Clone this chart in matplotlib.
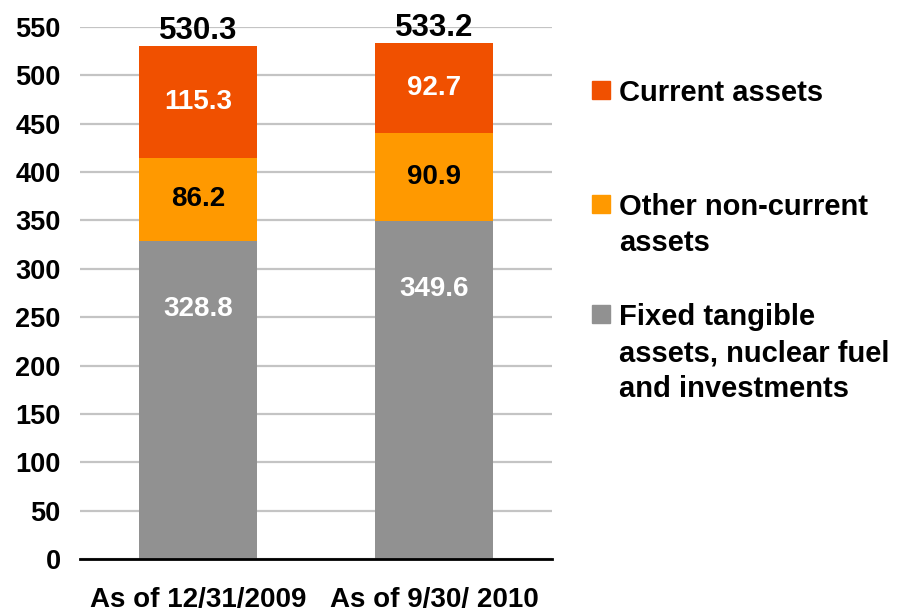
import matplotlib.pyplot as plt
from matplotlib.patches import Rectangle

categories = ['As of 12/31/2009', 'As of 9/30/ 2010']
fixed_assets = [328.8, 349.6]
other_noncurrent = [86.2, 90.9]
current_assets = [115.3, 92.7]
totals = [530.3, 533.2]

series_names = ['Current assets', 'Other non-current\nassets',
                'Fixed tangible\nassets, nuclear fuel\nand investments']
colors = {'current': '#F05000', 'other': '#FF9900', 'fixed': '#919191'}

plt.rcParams['font.family'] = ['Liberation Sans', 'DejaVu Sans']
plt.rcParams['font.weight'] = 'bold'

fig = plt.figure(figsize=(9.01, 6.11), dpi=100)
ax = fig.add_axes([80 / 901, 1 - 559 / 611, 472 / 901, 532 / 611])

x = list(range(len(categories)))
width = 0.5
bottom_other = fixed_assets
bottom_current = [a + b for a, b in zip(fixed_assets, other_noncurrent)]

ax.bar(x, fixed_assets, width, color=colors['fixed'], zorder=2)
ax.bar(x, other_noncurrent, width, bottom=bottom_other, color=colors['other'], zorder=2)
ax.bar(x, current_assets, width, bottom=bottom_current, color=colors['current'], zorder=2)

for i in x:
    # grey segment label sits near the top of the segment
    ax.annotate(f'{fixed_assets[i]:.1f}', (i, fixed_assets[i]), xytext=(0, -49),
                textcoords='offset points', ha='center', va='center',
                color='white', fontsize=20, fontweight='bold')
    ax.text(i, bottom_other[i] + other_noncurrent[i] / 2, f'{other_noncurrent[i]:.1f}',
            ha='center', va='center', color='black', fontsize=20, fontweight='bold')
    ax.text(i, bottom_current[i] + current_assets[i] / 2, f'{current_assets[i]:.1f}',
            ha='center', va='center', color='white', fontsize=20, fontweight='bold')
    ax.annotate(f'{totals[i]:.1f}', (i, totals[i]), xytext=(0, 5),
                textcoords='offset points', ha='center', va='baseline',
                color='black', fontsize=22.5, fontweight='bold')

ax.set_xlim(-0.5, 1.5)
ax.set_ylim(0, 550)
ax.set_yticks(range(0, 551, 50))
ax.set_xticks(x)
ax.set_xticklabels(categories, fontsize=20, fontweight='bold')
ax.tick_params(axis='y', length=0, pad=14, labelsize=19.5)
ax.tick_params(axis='x', length=0, pad=20)
ax.grid(axis='y', color='#C4C4C4', linewidth=1.6, zorder=0)
ax.set_axisbelow(True)
for s in ['top', 'right', 'left']:
    ax.spines[s].set_visible(False)
ax.spines['bottom'].set_color('black')
ax.spines['bottom'].set_linewidth(2)
ax.spines['bottom'].set_zorder(3)

# legend drawn by hand so the squares line up with the first text line
legend_colors = [colors['current'], colors['other'], colors['fixed']]
legend_y = [90, 204, 314]
line_step = 36
for name, c, y in zip(series_names, legend_colors, legend_y):
    fig.patches.append(Rectangle((592 / 901, 1 - (y + 9) / 611), 18 / 901, 18 / 611,
                                 transform=fig.transFigure, color=c))
    for k, line in enumerate(name.split('\n')):
        fig.text(619 / 901, 1 - (y + 11 + k * line_step) / 611, line,
                 ha='left', va='baseline', fontsize=21, fontweight='bold')

fig.savefig('out.png', dpi=100)
